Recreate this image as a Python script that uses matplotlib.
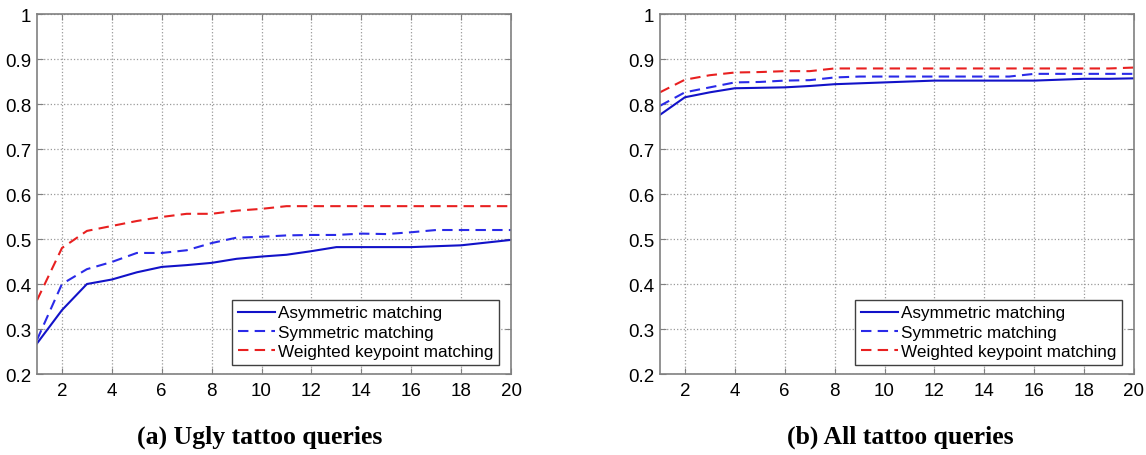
import matplotlib.pyplot as plt

# rank 1..20
ranks = list(range(1, 21))

# (a) Ugly tattoo queries
ugly_asym = [0.268, 0.342, 0.400, 0.410, 0.426, 0.438, 0.442, 0.447, 0.456, 0.461,
             0.465, 0.473, 0.482, 0.482, 0.482, 0.482, 0.484, 0.486, 0.492, 0.498]
ugly_sym = [0.276, 0.400, 0.433, 0.449, 0.469, 0.469, 0.475, 0.491, 0.503, 0.505,
            0.508, 0.509, 0.509, 0.512, 0.511, 0.515, 0.520, 0.520, 0.520, 0.520]
ugly_wkm = [0.364, 0.480, 0.518, 0.529, 0.540, 0.549, 0.556, 0.556, 0.563, 0.567,
            0.573, 0.573, 0.573, 0.573, 0.573, 0.573, 0.573, 0.573, 0.573, 0.573]

# (b) All tattoo queries
all_asym = [0.776, 0.815, 0.826, 0.835, 0.836, 0.837, 0.840, 0.844, 0.846, 0.848,
            0.850, 0.852, 0.852, 0.852, 0.852, 0.852, 0.854, 0.856, 0.856, 0.857]
all_sym = [0.796, 0.826, 0.837, 0.848, 0.849, 0.852, 0.853, 0.859, 0.861, 0.861,
           0.861, 0.861, 0.861, 0.861, 0.861, 0.867, 0.867, 0.867, 0.867, 0.867]
all_wkm = [0.826, 0.854, 0.864, 0.870, 0.871, 0.873, 0.873, 0.879, 0.879, 0.879,
           0.879, 0.879, 0.879, 0.879, 0.879, 0.879, 0.879, 0.879, 0.879, 0.881]

labels = ['Asymmetric matching', 'Symmetric matching', 'Weighted keypoint matching']
yticks = [0.2, 0.3, 0.4, 0.5, 0.6, 0.7, 0.8, 0.9, 1]
ytick_labels = ['0.2', '0.3', '0.4', '0.5', '0.6', '0.7', '0.8', '0.9', '1']
xticks = [2, 4, 6, 8, 10, 12, 14, 16, 18, 20]
captions = ['(a) Ugly tattoo queries', '(b) All tattoo queries']

fig = plt.figure(figsize=(11.46, 4.56), dpi=100)
ax1 = fig.add_axes([0.0323, 0.1776, 0.4136, 0.7895])
ax2 = fig.add_axes([0.5759, 0.1776, 0.4136, 0.7895])

panels = [(ax1, ugly_asym, ugly_sym, ugly_wkm), (ax2, all_asym, all_sym, all_wkm)]
for ax, asym, sym, wkm in panels:
    ax.plot(ranks, asym, '-', color='#1212c8', lw=1.5, label=labels[0])
    ax.plot(ranks, sym, '--', color='#2a2ae8', lw=1.5, dashes=(5, 3), label=labels[1])
    ax.plot(ranks, wkm, '--', color='#e82020', lw=1.5, dashes=(5, 3), label=labels[2])
    ax.set_xlim(1, 20)
    ax.set_ylim(0.2, 1)
    ax.set_xticks(xticks)
    ax.set_yticks(yticks)
    ax.set_yticklabels(ytick_labels)
    ax.grid(True, linestyle=':', color='#9a9a9a', lw=0.9)
    ax.tick_params(direction='in', top=True, right=True, length=4, color='#808080',
                   labelsize=13.5, pad=4)
    ax.tick_params(axis='x', pad=6)
    for t in ax.get_xticklabels() + ax.get_yticklabels():
        t.set_fontfamily('Liberation Sans')
    for s in ax.spines.values():
        s.set_color('#808080')
        s.set_linewidth(1.2)
    leg = ax.legend(loc='lower right', bbox_to_anchor=(0.975, 0.025),
                    prop={'family': 'Liberation Sans', 'size': 12.3},
                    fancybox=False, framealpha=1, edgecolor='#404040',
                    handlelength=2.2, handletextpad=0.15, labelspacing=0.25,
                    borderpad=0.35, borderaxespad=0)
    leg.get_frame().set_linewidth(1.0)

fig.text(0.227, 0.042, captions[0], ha='center', va='center',
         family='Liberation Serif', weight='bold', fontsize=18.5)
fig.text(0.786, 0.042, captions[1], ha='center', va='center',
         family='Liberation Serif', weight='bold', fontsize=18.5)

fig.savefig('out.png', dpi=100)
